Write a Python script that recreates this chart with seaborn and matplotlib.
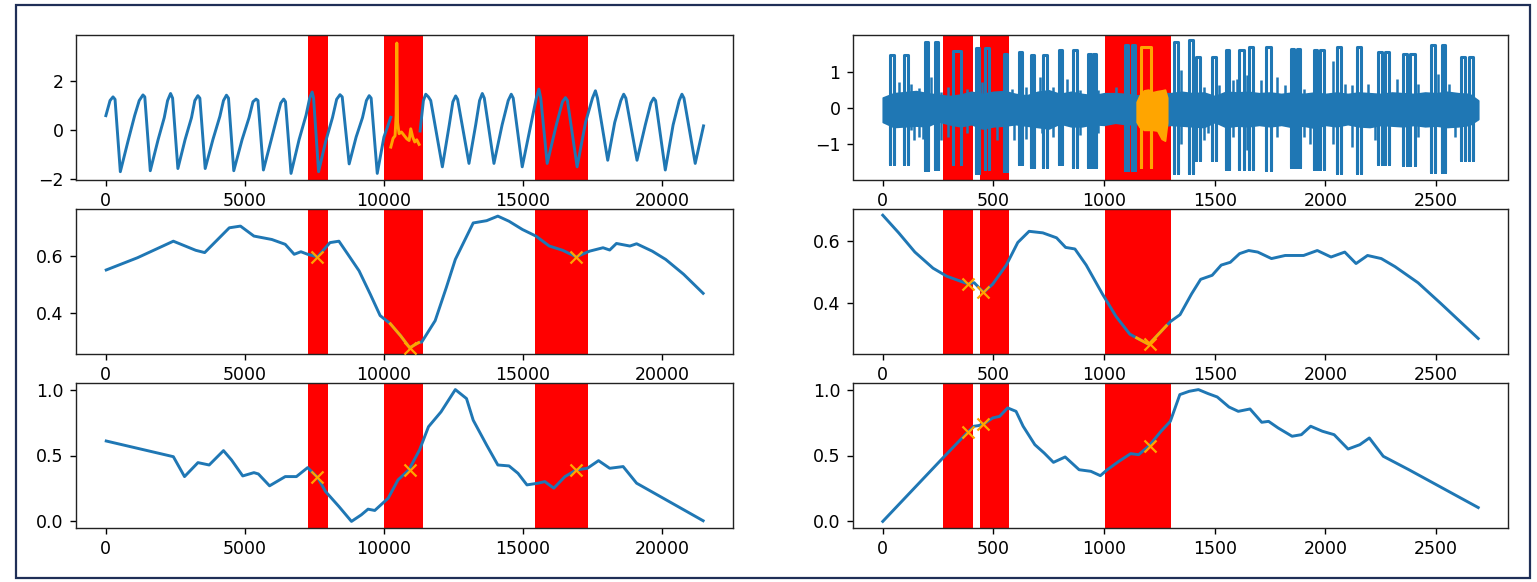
import matplotlib
matplotlib.use("Agg")
import matplotlib.pyplot as plt
import seaborn as sns
from matplotlib.patches import Rectangle

# ---------------- data ----------------
# left column: long series (top panel), blue parts and the orange discord window
L_ts1_x = [0, 150, 257, 330, 520, 800, 1035, 1200, 1334, 1400, 1597, 1880, 2100, 2220, 2327, 2400,
           2590, 2850, 3080, 3200, 3308, 3380, 3572, 3850, 4100, 4230, 4337, 4410, 4600, 4900, 5150,
           5290, 5402, 5470, 5666, 5950, 6150, 6290, 6395, 6460, 6659, 6950, 7200, 7330, 7420, 7470,
           7650, 7900, 8150, 8300, 8420, 8500, 8750, 9000, 9230, 9370, 9470, 9540, 9760, 10000, 10247]
L_ts1_y = [0.58, 1.2, 1.35, 1.25, -1.72, -0.45, 0.58, 1.2, 1.43, 1.35, -1.68, -0.4, 0.5, 1.2, 1.49, 1.3,
           -1.59, -0.4, 0.5, 1.2, 1.40, 1.3, -1.59, -0.4, 0.55, 1.2, 1.42, 1.3, -1.68, -0.4, 0.5,
           1.15, 1.26, 1.2, -1.65, -0.4, 0.5, 1.1, 1.26, 1.15, -1.79, -0.4, 0.6, 1.3, 1.55, 1.3,
           -1.72, -0.5, 0.5, 1.25, 1.44, 1.35, -1.4, -0.3, 0.5, 1.2, 1.40, 1.3, -1.79, -0.3, 0.51]
L_ts2_x = [11300, 11420, 11504, 11600, 11683, 12102, 12350, 12480, 12580, 12650, 13059, 13300, 13440,
           13538, 13610, 13957, 14250, 14470, 14579, 14650, 14974, 15300, 15480, 15572, 15640, 15871,
           16200, 16420, 16529, 16600, 16948, 17250, 17500, 17606, 17680, 18049, 18300, 18520, 18623,
           18700, 19102, 19400, 19600, 19700, 19770, 20119, 20400, 20620, 20717, 20790, 21195, 21494]
L_ts2_y = [-0.05, 1.2, 1.46, 1.35, 1.2, -1.52, 0.2, 1.15, 1.39, 1.25, -1.38, 0.2, 1.2,
           1.49, 1.3, -1.38, 0.2, 1.2, 1.46, 1.3, -1.52, 0.3, 1.3, 1.67, 1.3, -1.38,
           0.2, 1.15, 1.32, 1.2, -1.52, 0.3, 1.3, 1.60, 1.3, -1.25, 0.3, 1.2, 1.46,
           1.3, -1.25, 0.2, 1.1, 1.30, 1.2, -1.65, 0.2, 1.2, 1.46, 1.3, -1.38, 0.16]
L_anom_x = [10247, 10330, 10400, 10440, 10463, 10490, 10547, 10630, 10726, 10822, 10906, 10965,
            11037, 11109, 11181, 11265]
L_anom_y = [-0.71, -0.35, -0.25, 0.6, 3.56, 0.3, -0.16, -0.09, -0.23, -0.37, -0.44, 0.04,
            -0.30, -0.50, -0.41, -0.60]

# left column: profile rows
L_p1_x = [13, 1139, 2427, 3232, 3554, 4439, 4841, 5324, 5968, 6451, 6773, 7014, 7256, 7610, 8060,
          8382, 8704, 9106, 9509, 9863, 10233, 10600, 10926, 11250, 11360, 11843, 12246, 12568,
          13211, 13694, 14097, 14499, 14982, 15465, 15948, 16430, 16913, 17396, 17879, 18120,
          18362, 18845, 19087, 19650, 20133, 20777, 21480]
L_p1_y = [0.551, 0.594, 0.652, 0.620, 0.612, 0.699, 0.705, 0.670, 0.658, 0.641, 0.606, 0.615, 0.606,
          0.597, 0.647, 0.652, 0.606, 0.548, 0.466, 0.391, 0.362, 0.320, 0.278, 0.296, 0.298, 0.373,
          0.490, 0.588, 0.716, 0.724, 0.740, 0.722, 0.693, 0.670, 0.635, 0.620, 0.597, 0.617, 0.629,
          0.621, 0.644, 0.635, 0.643, 0.617, 0.588, 0.536, 0.469]
L_p1_anom_x = [10233, 10600, 10926, 11250]
L_p1_anom_y = [0.362, 0.320, 0.278, 0.296]
L_p2_x = [13, 2427, 2829, 3312, 3715, 4230, 4519, 4922, 5324, 5485, 5887, 6451, 6853, 7256, 7610,
          7900, 8382, 8833, 9187, 9429, 9670, 10153, 10507, 10893, 11280, 11602, 12053, 12568,
          12970, 13211, 13694, 14097, 14499, 14821, 15143, 15545, 15787, 16109, 16511, 16913,
          17315, 17718, 18120, 18603, 19087, 21480]
L_p2_y = [0.610, 0.491, 0.340, 0.446, 0.428, 0.537, 0.466, 0.345, 0.370, 0.360, 0.270, 0.340, 0.340,
          0.408, 0.335, 0.227, 0.113, 0.0, 0.050, 0.093, 0.083, 0.176, 0.315, 0.390, 0.542, 0.718,
          0.831, 1.0, 0.932, 0.768, 0.579, 0.428, 0.421, 0.365, 0.277, 0.290, 0.302, 0.252, 0.340,
          0.390, 0.403, 0.461, 0.403, 0.416, 0.290, 0.005]
L_mark_x = [7610, 10926, 16913]
L_mark_y1 = [0.597, 0.278, 0.597]
L_mark_y2 = [0.335, 0.390, 0.390]
L_span_start = [7260, 10005, 15435]
L_span_end = [7995, 11420, 17330]

# right column: noisy series (top panel) as band envelope + square pulses + thin spikes
R_env_x = [0, 50, 100, 150, 200, 250, 300, 350, 400, 450,
           500, 550, 600, 650, 700, 750, 800, 850, 900, 950,
           1000, 1050, 1100, 1150, 1200, 1250, 1300, 1350, 1400, 1450,
           1500, 1550, 1600, 1650, 1700, 1750, 1800, 1850, 1900, 1950,
           2000, 2050, 2100, 2150, 2200, 2250, 2300, 2350, 2400, 2450,
           2500, 2550, 2600, 2650, 2690]
R_env_hi = [0.30, 0.42, 0.45, 0.48, 0.42, 0.38, 0.34, 0.38, 0.46, 0.40,
            0.46, 0.48, 0.40, 0.36, 0.46, 0.50, 0.40, 0.46, 0.40, 0.36,
            0.42, 0.42, 0.40, 0.36, 0.40, 0.42, 0.42, 0.46, 0.42, 0.44,
            0.34, 0.46, 0.44, 0.46, 0.42, 0.44, 0.40, 0.44, 0.40, 0.44,
            0.40, 0.44, 0.40, 0.44, 0.42, 0.40, 0.44, 0.42, 0.40, 0.44,
            0.42, 0.46, 0.42, 0.40, 0.22]
R_env_lo = [-0.38, -0.52, -0.50, -0.48, -0.50, -0.36, -0.44, -0.50, -0.44, -0.56,
            -0.50, -0.48, -0.44, -0.48, -0.52, -0.56, -0.42, -0.50, -0.50, -0.44,
            -0.46, -0.40, -0.44, -0.44, -0.48, -0.50, -0.46, -0.48, -0.50, -0.52,
            -0.38, -0.52, -0.48, -0.50, -0.46, -0.50, -0.46, -0.52, -0.48, -0.54,
            -0.46, -0.50, -0.44, -0.50, -0.52, -0.46, -0.48, -0.50, -0.46, -0.50,
            -0.48, -0.52, -0.50, -0.46, -0.30]
R_pulse_l = [34, 97, 191, 235, 319, 419, 464, 546, 614, 669, 726, 796, 861, 925, 950, 1096, 1127,
             1317, 1385, 1415, 1487, 1550, 1610, 1654, 1732, 1842, 1872, 1946, 1976, 2051, 2144,
             2238, 2268, 2348, 2384, 2478, 2526, 2613, 2647]
R_pulse_r = [49, 115, 206, 250, 352, 434, 479, 561, 629, 684, 741, 811, 876, 940, 965, 1108, 1139,
             1332, 1403, 1433, 1505, 1565, 1632, 1672, 1752, 1857, 1887, 1961, 1994, 2069, 2159,
             2256, 2286, 2366, 2403, 2493, 2541, 2631, 2665]
R_pulse_top = [1.47, 1.47, 1.84, 1.84, 1.59, 1.68, 1.68, 1.52, 1.57, 1.47, 1.47, 1.61, 1.61, 1.52,
               1.52, 1.75, 1.75, 1.84, 1.89, 1.44, 1.44, 1.61, 1.61, 1.70, 1.70, 1.66, 1.66, 1.61,
               1.61, 1.72, 1.72, 1.57, 1.57, 1.52, 1.52, 1.75, 1.75, 1.44, 1.44]
R_pulse_bot = [-1.54, -1.54, -1.72, -1.70, -1.54, -1.81, -1.70, -1.75, -1.54, -1.63, -1.63, -1.54,
               -1.63, -1.63, -1.63, -1.72, -1.72, -1.81, -1.81, -1.45, -1.45, -1.68, -1.68, -1.70,
               -1.72, -1.63, -1.63, -1.68, -1.68, -1.81, -1.81, -1.54, -1.54, -1.59, -1.59, -1.77,
               -1.77, -1.45, -1.45]
R_spk_x = [75, 127, 139, 165, 180, 217, 262, 295, 379, 449, 516, 584, 591, 648, 711, 718, 771, 831,
           891, 973, 1055, 1347, 1452, 1467, 1520, 1580, 1602, 1647, 1707, 1782, 1819, 1901, 1931,
           2032, 2089, 2119, 2193, 2223, 2321, 2418, 2508, 2556, 2583]
R_spk_top = [0.73, 0.69, 0.30, 0.57, 0.30, 0.87, 0.45, 0.59, 0.55, 0.73, 0.30, 0.55, 0.30, 0.59,
             0.87, 0.30, 0.59, 0.82, 0.50, 0.50, 0.59, 1.06, 0.59, 0.30, 0.64, 0.78, 0.82, 0.92,
             0.78, 0.87, 0.64, 0.55, 0.30, 1.33, 0.69, 0.64, 0.69, 0.30, 0.82, 0.69, 0.96, 0.69, 0.30]
R_spk_bot = [-0.30, -0.61, -0.89, -0.80, -0.84, -0.30, -0.89, -0.80, -0.70, -0.30, -0.89, -0.30,
             -0.89, -0.84, -0.30, -0.70, -0.80, -0.30, -0.75, -0.70, -0.30, -1.00, -0.89, -0.70,
             -0.30, -0.80, -0.30, -1.17, -0.30, -0.80, -0.30, -0.80, -0.98, -0.98, -0.30, -1.07,
             -0.30, -0.89, -0.30, -0.80, -0.30, -0.30, -0.80]
R_anom_x = [1147, 1160, 1180, 1200, 1220, 1240, 1260, 1275, 1285]
R_anom_hi = [0.18, 0.36, 0.50, 0.52, 0.45, 0.48, 0.50, 0.52, 0.30]
R_anom_lo = [-0.38, -0.52, -0.60, -0.60, -0.60, -0.62, -0.85, -0.90, -0.40]
R_anom_pulse = [1168, 1212, 1.70, -1.63]

# right column: profile rows
R_p1_x = [0, 72, 145, 227, 289, 382, 413, 455, 496, 558, 610, 661, 723, 785, 826, 868, 919, 992,
          1054, 1116, 1147, 1202, 1281, 1300, 1343, 1395, 1436, 1488, 1529, 1570, 1612, 1653, 1694,
          1756, 1818, 1901, 1963, 2025, 2087, 2138, 2190, 2252, 2314, 2418, 2521, 2690]
R_p1_y = [0.683, 0.626, 0.564, 0.512, 0.486, 0.462, 0.465, 0.434, 0.460, 0.522, 0.595, 0.631, 0.626,
          0.610, 0.579, 0.574, 0.522, 0.429, 0.356, 0.299, 0.287, 0.266, 0.326, 0.340, 0.362, 0.429,
          0.476, 0.489, 0.522, 0.531, 0.559, 0.569, 0.564, 0.543, 0.553, 0.553, 0.569, 0.548, 0.564,
          0.527, 0.553, 0.543, 0.517, 0.465, 0.398, 0.285]
R_p1_anom_x = [1147, 1202, 1281]
R_p1_anom_y = [0.287, 0.266, 0.326]
R_p2_x = [0, 264, 380, 412, 433, 459, 497, 528, 564, 602, 634, 687, 729, 771, 824, 887, 940, 983,
          1014, 1067, 1120, 1156, 1204, 1257, 1299, 1342, 1384, 1426, 1469, 1511, 1564, 1606, 1659,
          1712, 1743, 1786, 1849, 1891, 1933, 1986, 2039, 2102, 2155, 2198, 2261, 2377, 2690]
R_p2_y = [0.0, 0.468, 0.671, 0.722, 0.727, 0.742, 0.785, 0.797, 0.861, 0.835, 0.722, 0.582, 0.519,
          0.448, 0.489, 0.392, 0.380, 0.347, 0.392, 0.456, 0.514, 0.506, 0.575, 0.684, 0.759, 0.962,
          0.987, 1.0, 0.970, 0.944, 0.868, 0.835, 0.853, 0.752, 0.759, 0.709, 0.646, 0.658, 0.722,
          0.684, 0.658, 0.549, 0.582, 0.633, 0.494, 0.392, 0.105]
R_mark_x = [385, 455, 1205]
R_mark_y1 = [0.462, 0.434, 0.266]
R_mark_y2 = [0.680, 0.742, 0.575]
R_span_start = [270, 438, 1002]
R_span_end = [408, 569, 1301]

L_xticks = [0, 5000, 10000, 15000, 20000]
R_xticks = [0, 500, 1000, 1500, 2000, 2500]

# ---------------- style ----------------
BLUE = "#1f77b4"
ORANGE = "orange"
RED = "#ff0000"
LW = 2.1

plt.rcParams.update({
    "font.family": ["DejaVu Sans"],
    "font.size": 12.5,
    "axes.linewidth": 1.0,
    "xtick.major.size": 4.5, "ytick.major.size": 4.5,
    "xtick.major.width": 1.0, "ytick.major.width": 1.0,
    "xtick.major.pad": 4.5, "ytick.major.pad": 4.5,
    "axes.edgecolor": "#222222",
})

W, H = 1537, 582
fig = plt.figure(figsize=(W / 100, H / 100), dpi=100)
fig.patch.set_facecolor("white")


def add_ax(x0, x1, y0, y1):
    return fig.add_axes([x0 / W, (H - y1) / H, (x1 - x0) / W, (y1 - y0) / H])


rows = [(35, 179.5), (209, 354), (383, 528)]
L_cols = (76, 733)
R_cols = (853, 1508)
axL = [add_ax(L_cols[0], L_cols[1], r0, r1) for r0, r1 in rows]
axR = [add_ax(R_cols[0], R_cols[1], r0, r1) for r0, r1 in rows]


def line(ax, x, y, color=BLUE, lw=LW, z=3):
    sns.lineplot(x=x, y=y, ax=ax, color=color, linewidth=lw, estimator=None,
                 sort=False, legend=False, zorder=z)


def spans(ax, starts, ends):
    for s, e in zip(starts, ends):
        ax.axvspan(s, e, color=RED, lw=0, zorder=1)


# ---- left column ----
for ax in axL:
    spans(ax, L_span_start, L_span_end)
line(axL[0], L_ts1_x, L_ts1_y)
line(axL[0], L_ts2_x, L_ts2_y)
line(axL[0], L_anom_x, L_anom_y, color=ORANGE, z=4)
line(axL[1], L_p1_x, L_p1_y)
line(axL[1], L_p1_anom_x, L_p1_anom_y, color=ORANGE, z=4)
line(axL[2], L_p2_x, L_p2_y)
for ax, my in ((axL[1], L_mark_y1), (axL[2], L_mark_y2)):
    sns.scatterplot(x=L_mark_x, y=my, ax=ax, marker="x", s=75, color=ORANGE,
                    linewidth=1.6, zorder=5, legend=False)

# ---- right column ----
for ax in axR:
    spans(ax, R_span_start, R_span_end)
a = axR[0]
a.fill_between(R_env_x, R_env_lo, R_env_hi, color=BLUE, lw=1.2, zorder=2)
a.vlines(R_spk_x, R_spk_bot, R_spk_top, color=BLUE, lw=1.8, zorder=2)
for xl, xr, tp, bt in zip(R_pulse_l, R_pulse_r, R_pulse_top, R_pulse_bot):
    line(a, [xl, xl, xl, xr, xr, xr], [0, bt, tp, tp, bt, 0], lw=2.2, z=3)
a.fill_between(R_anom_x, R_anom_lo, R_anom_hi, color=ORANGE, lw=1.2, zorder=4)
pl, pr, pt, pb = R_anom_pulse
line(a, [pl, pl, pl, pr, pr, pr], [0, pb, pt, pt, pb, 0], color=ORANGE, lw=2.2, z=4)

line(axR[1], R_p1_x, R_p1_y)
line(axR[1], R_p1_anom_x, R_p1_anom_y, color=ORANGE, z=4)
line(axR[2], R_p2_x, R_p2_y)
for ax, my in ((axR[1], R_mark_y1), (axR[2], R_mark_y2)):
    sns.scatterplot(x=R_mark_x, y=my, ax=ax, marker="x", s=75, color=ORANGE,
                    linewidth=1.6, zorder=5, legend=False)

# ---- limits & ticks ----
for ax in axL:
    ax.set_xlim(-1074, 22554)
    ax.set_xticks(L_xticks)
for ax in axR:
    ax.set_xlim(-134.5, 2824.5)
    ax.set_xticks(R_xticks)

axL[0].set_ylim(-2.04, 3.89); axL[0].set_yticks([-2, 0, 2])
axR[0].set_ylim(-1.98, 2.04); axR[0].set_yticks([-1, 0, 1])
axL[1].set_ylim(0.256, 0.765); axL[1].set_yticks([0.4, 0.6])
axR[1].set_ylim(0.235, 0.703); axR[1].set_yticks([0.4, 0.6])
for ax in (axL[2], axR[2]):
    ax.set_ylim(-0.05, 1.05); ax.set_yticks([0.0, 0.5, 1.0])

for ax in axL + axR:
    ax.set_xlabel("")
    ax.set_ylabel("")
    ax.set_facecolor("white")

# ---- outer frame of the screenshot ----
fig.add_artist(Rectangle((16 / W, (H - 578) / H), (1530 - 16) / W, (578 - 5) / H,
                         transform=fig.transFigure, fill=False, edgecolor="#1f2f57",
                         linewidth=1.6, zorder=10))

fig.savefig("out.png", dpi=100, facecolor="white")
